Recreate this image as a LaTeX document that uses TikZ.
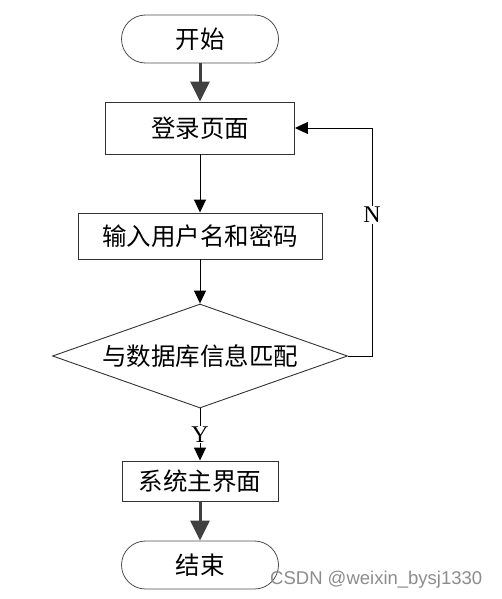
\documentclass[tikz,border=0pt]{standalone}
\usepackage{fontspec}
\setmainfont{Liberation Serif}
\newfontfamily\cjk{Noto Sans CJK SC}
\newfontfamily\wm{Liberation Sans}
\usetikzlibrary{shapes.geometric,arrows.meta}
\begin{document}
\begin{tikzpicture}[x=1pt,y=-1pt,
  every node/.style={font=\cjk\fontsize{24.5}{26}\selectfont},
  term/.style={draw=black!70,line width=0.8pt,rounded corners=24pt,minimum width=157pt,minimum height=48pt,inner sep=0pt},
  proc/.style={draw=black!80,line width=0.9pt,minimum height=#1,inner sep=0pt},
  dec/.style={draw=black!80,line width=0.9pt,diamond,aspect=2.84,minimum width=295pt,minimum height=104pt,inner sep=0pt},
  thick arrow/.style={draw=black!75,line width=3pt,-{Triangle[length=20pt,width=19pt]}},
  thin arrow/.style={draw=black,line width=0.9pt,-{Triangle[length=13pt,width=12pt]}},
  lbl/.style={font=\fontsize{24}{26}\selectfont,fill=white,inner sep=1pt}]
\useasboundingbox (0,0) rectangle (502,599);
\node[term] (start) at (200,39) {开始};
\node[proc=52pt,minimum width=189pt] (login) at (200,128) {登录页面};
\node[proc=46pt,minimum width=244pt] (input) at (200,236) {输入用户名和密码};
\node[dec] (check) at (200,356) {与数据库信息匹配};
\node[proc=40pt,minimum width=156pt] (main) at (200,481) {系统主界面};
\node[term] (end) at (200,565) {结束};
\coordinate (corner1) at (372,356);
\coordinate (corner2) at (372,128);
\draw[thick arrow] (start) -- (login);
\draw[thin arrow] (login) -- (input);
\draw[thin arrow] (input) -- (check.north);
\draw[thin arrow] (check.east) -- (corner1) -- node[lbl,pos=0.62] (nlabel) {N} (corner2) -- (login.east);
\draw[thin arrow] (check.south) -- node[lbl,pos=0.5] (ylabel) {Y} (main.north);
\draw[thick arrow] (main) -- (end);
\node[font=\wm\fontsize{18.5}{20}\selectfont,text=black!45,anchor=west,inner sep=0pt] (mark) at (270,580) {CSDN @weixin\_bysj1330};
\end{tikzpicture}
\end{document}
